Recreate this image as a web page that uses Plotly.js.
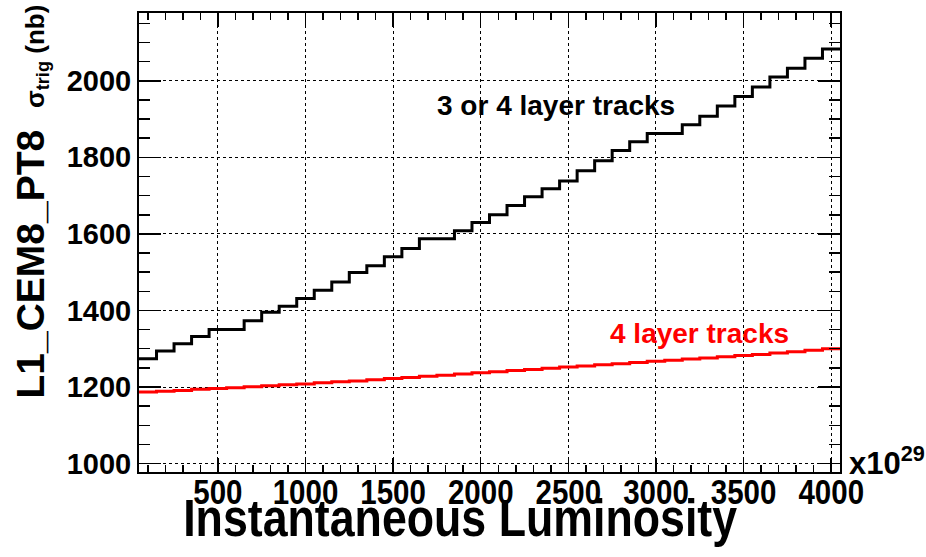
<!DOCTYPE html>
<html>
<head>
<meta charset="utf-8">
<script src="https://cdn.plot.ly/plotly-3.0.1.min.js"></script>
<style>
html,body{margin:0;padding:0;background:#fff;}
#chart{width:926px;height:557px;}
</style>
</head>
<body>
<div id="chart"></div>
<script>
// Bin centres of the luminosity histogram (units of 1e29)
const lumiBins = [100,200,300,400,500,600,700,800,900,1000,
  1100,1200,1300,1400,1500,1600,1700,1800,1900,2000,
  2100,2200,2300,2400,2500,2600,2700,2800,2900,3000,
  3100,3200,3300,3400,3500,3600,3700,3800,3900,4000];

// sigma_trig (nb) for 3 or 4 layer tracks
const xsec34Layer = [1274,1294,1313,1332,1350,1350,1373,1395,1411,1431,
  1453,1474,1499,1517,1540,1562,1587,1587,1608,1630,
  1650,1674,1697,1718,1738,1765,1791,1818,1841,1862,
  1862,1885,1907,1934,1959,1984,2010,2033,2059,2083];

// sigma_trig (nb) for 4 layer tracks
const xsec4Layer = [1187,1189,1191,1194,1196,1198,1201,1203,1206,1208,
  1211,1214,1216,1219,1222,1225,1228,1231,1234,1237,
  1240,1243,1246,1249,1252,1255,1258,1261,1264,1267,
  1270,1273,1276,1279,1282,1285,1289,1292,1296,1300];

const xTickVals = [500,1000,1500,2000,2500,3000,3500,4000];
const yTickVals = [1000,1200,1400,1600,1800,2000];

const labels = {
  x: "Instantaneous Luminosity",
  yMain: "L1_CEM8_PT8",
  ySigma: "σ",
  ySub: "trig",
  yUnit: "(nb)",
  series34: "3 or 4 layer tracks",
  series4: "4 layer tracks",
  scale: "x10<sup>29</sup>"
};

// histogram outline: bin low edges plus last upper edge
function stepXY(centres, vals) {
  const w = centres[1] - centres[0];
  const xs = centres.map(c => c - w / 2);
  xs.push(centres[centres.length - 1] + w / 2);
  const ys = vals.slice();
  ys.push(vals[vals.length - 1]);
  return {x: xs, y: ys};
}

const s34 = stepXY(lumiBins, xsec34Layer);
const s4 = stepXY(lumiBins, xsec4Layer);
const binW = lumiBins[1] - lumiBins[0];

const boldFont = {family: "Liberation Sans, Arial, sans-serif", weight: "bold", color: "black"};

const traces = [
  {x: s34.x, y: s34.y, type: "scatter", mode: "lines",
   line: {shape: "hv", color: "black", width: 3}, hoverinfo: "skip"},
  {x: s4.x, y: s4.y, type: "scatter", mode: "lines",
   line: {shape: "hv", color: "red", width: 3}, hoverinfo: "skip"}
];

const layout = {
  width: 926, height: 557,
  margin: {l: 139, r: 86, t: 13, b: 85},
  paper_bgcolor: "white", plot_bgcolor: "white",
  showlegend: false,
  xaxis: {
    range: [lumiBins[0] - binW / 2, lumiBins[lumiBins.length - 1] + binW / 2],
    tickmode: "array", tickvals: xTickVals, ticktext: xTickVals.map(String),
    ticks: "inside", ticklen: 14, tickwidth: 1.5, tickcolor: "black",
    minor: {dtick: 100, tick0: 0, ticks: "inside", ticklen: 7, tickwidth: 1.5, tickcolor: "black", showgrid: false},
    showline: true, linecolor: "black", linewidth: 2, mirror: "ticks",
    showgrid: true, gridcolor: "black", gridwidth: 1, griddash: "dot",
    zeroline: false,
    tickfont: Object.assign({size: 36}, boldFont)
  },
  yaxis: {
    range: [978, 2177],
    tickmode: "array", tickvals: yTickVals, ticktext: yTickVals.map(String),
    ticks: "inside", ticklen: 22, tickwidth: 1.5, tickcolor: "black",
    minor: {dtick: 50, tick0: 0, ticks: "inside", ticklen: 11, tickwidth: 1.5, tickcolor: "black", showgrid: false},
    showline: true, linecolor: "black", linewidth: 2, mirror: "ticks",
    showgrid: true, gridcolor: "black", gridwidth: 1, griddash: "dot",
    zeroline: false,
    tickfont: Object.assign({size: 29}, boldFont)
  },
  annotations: [
    {text: labels.series34, x: 2430, y: 1935, xref: "x", yref: "y",
     showarrow: false, font: Object.assign({size: 28}, boldFont)},
    {text: labels.series4, x: 3246, y: 1341, xref: "x", yref: "y",
     showarrow: false, font: Object.assign({size: 28}, boldFont, {color: "red"})},
    {text: labels.scale, x: 1.01, y: 0.025, xref: "paper", yref: "paper",
     xanchor: "left", yanchor: "middle", showarrow: false,
     font: Object.assign({size: 31}, boldFont)},
    {text: labels.x, x: 0.4577, y: -0.1, xref: "paper", yref: "paper",
     xanchor: "center", yanchor: "middle", showarrow: false,
     font: Object.assign({size: 52}, boldFont)},
    {text: labels.yMain + '  <span style="font-size:26px">' + labels.ySigma + '<sub>' + labels.ySub + '</sub> ' + labels.yUnit + '</span>',
     x: -0.1546, y: 0.5884, xref: "paper", yref: "paper", textangle: -90,
     xanchor: "center", yanchor: "middle", showarrow: false,
     font: Object.assign({size: 39}, boldFont)}
  ]
};

// horizontally condense a text element about its own anchor (ROOT's narrow bold look)
function condense(t, s) {
  const x = parseFloat(t.getAttribute("x") || "0");
  const prev = t.getAttribute("transform") || "";
  t.setAttribute("transform", prev + " translate(" + (x * (1 - s)).toFixed(2) + ",0) scale(" + s + ",1)");
}

Plotly.newPlot("chart", traces, layout, {staticPlot: true, displayModeBar: false}).then(function () {
  document.querySelectorAll(".xaxislayer-above .xtick text").forEach(function (t) {
    const y = parseFloat(t.getAttribute("y") || "0");
    t.setAttribute("y", (y - 13).toFixed(1));
    condense(t, 0.82);
  });
  document.querySelectorAll(".annotation-text").forEach(function (t) {
    if (t.textContent === labels.x) condense(t, 0.86);
  });
});
</script>
</body>
</html>
